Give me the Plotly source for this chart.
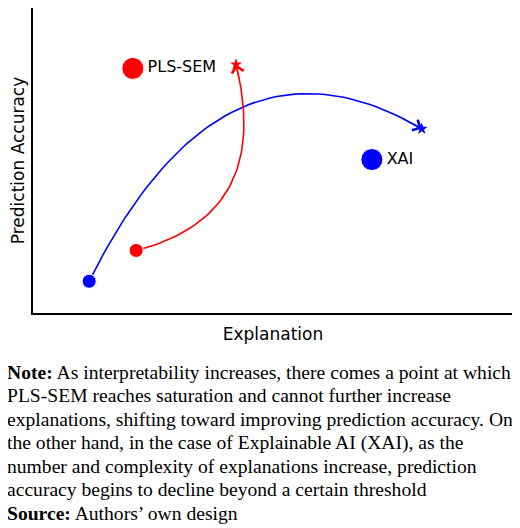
import plotly.graph_objects as go
import numpy as np

# bezier control points (start, control, end) in data units
blue_ctrl = [(1.17, 1.04), (3.96, 9.86), (8.1, 6.04)]
red_ctrl = [(2.15, 2.05), (5.0, 3.2), (4.23, 8.15)]
labels = ["PLS-SEM", "XAI"]
label_x = [2.08, 7.06]
label_y = [8.02, 5.03]
label_colors = ["red", "blue"]

note_lines = [
    "<b>Note:</b> As interpretability increases, there comes a point at which",
    "PLS-SEM reaches saturation and cannot further increase",
    "explanations, shifting toward improving prediction accuracy. On",
    "the other hand, in the case of Explainable AI (XAI), as the",
    "number and complexity of explanations increase, prediction",
    "accuracy begins to decline beyond a certain threshold",
    "<b>Source:</b> Authors’ own design",
]


def bez(p):
    t = np.linspace(0, 1, 60)[:, None]
    p0, p1, p2 = [np.array(q) for q in p]
    c = (1 - t) ** 2 * p0 + 2 * (1 - t) * t * p1 + t ** 2 * p2
    return c[:, 0], c[:, 1]


fig = go.Figure()
anns = []
for ctrl, col in [(blue_ctrl, "blue"), (red_ctrl, "red")]:
    x, y = bez(ctrl)
    fig.add_trace(go.Scatter(x=x, y=y, mode="lines", line=dict(color=col, width=1.6),
                             showlegend=False))
    fig.add_trace(go.Scatter(x=[x[0]], y=[y[0]], mode="markers",
                             marker=dict(color=col, size=14, line=dict(color="white", width=1)),
                             showlegend=False))
    fig.add_trace(go.Scatter(x=[x[-1]], y=[y[-1]], mode="markers",
                             marker=dict(color=col, size=9, symbol="star"), showlegend=False))
    anns.append(dict(x=x[-1], y=y[-1], ax=x[-4], ay=y[-4], xref="x", yref="y",
                     axref="x", ayref="y", showarrow=True, arrowhead=4, arrowsize=1.8,
                     arrowwidth=1.3, arrowcolor=col, text=""))

fig.add_trace(go.Scatter(x=label_x, y=label_y, mode="markers+text", text=labels,
                         textposition="middle right",
                         textfont=dict(family="DejaVu Sans", size=16, color="black"),
                         marker=dict(color=label_colors, size=22,
                                     line=dict(color="white", width=1)),
                         showlegend=False))

for i, line in enumerate(note_lines):
    py = 372 + 23.6 * i - 8
    anns.append(dict(x=0.0, y=(305 - py) / 305, xref="paper", yref="paper",
                     xanchor="left", yanchor="middle", xshift=-28, align="left",
                     showarrow=False, text=line,
                     font=dict(family="Liberation Serif", size=19.6, color="black")))

fig.update_layout(
    width=520, height=520, plot_bgcolor="white", paper_bgcolor="white",
    margin=dict(l=25, r=15, t=0, b=215, autoexpand=False), annotations=anns,
    font=dict(family="DejaVu Sans", color="black"),
)
fig.update_xaxes(range=[0, 10], showticklabels=False, showgrid=False, zeroline=False,
                 showline=True, mirror=True, linecolor="black", linewidth=1.5,
                 automargin=False,
                 title=dict(text="Explanation", font=dict(size=17), standoff=14))
fig.update_yaxes(range=[0, 10], showticklabels=False, showgrid=False, zeroline=False,
                 showline=True, mirror=True, linecolor="black", linewidth=1.5,
                 automargin=False,
                 title=dict(text="Prediction Accuracy", font=dict(size=17), standoff=4))

fig.write_html("out.html")
